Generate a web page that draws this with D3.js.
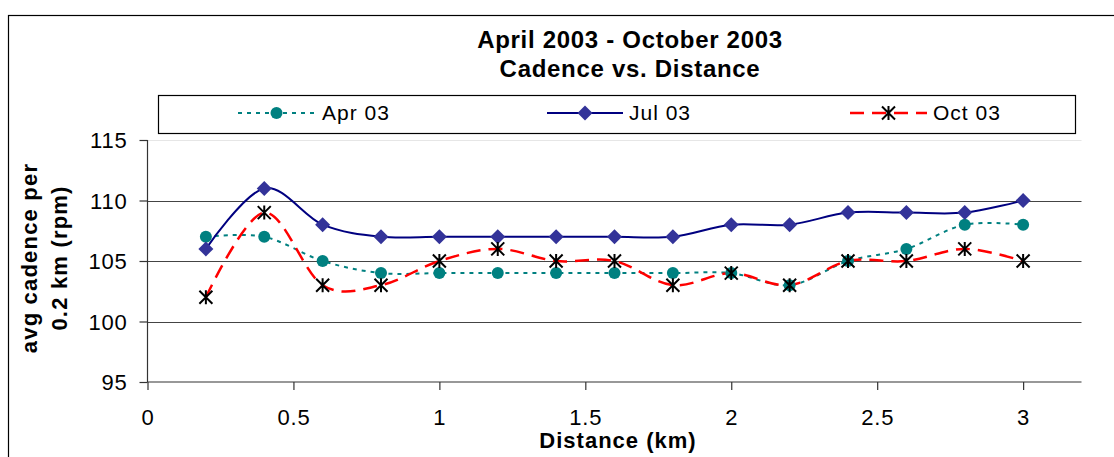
<!DOCTYPE html>
<html><head><meta charset="utf-8">
<script src="https://cdn.jsdelivr.net/npm/d3@7"></script>
<style>
html,body{margin:0;padding:0;background:#fff;}
svg{display:block;font-family:"Liberation Sans",Arial,sans-serif;}
</style></head>
<body><svg id="c" width="1114" height="457"></svg>
<script>
const distances = [0.2,0.4,0.6,0.8,1.0,1.2,1.4,1.6,1.8,2.0,2.2,2.4,2.6,2.8,3.0];
const apr03 = [107,107,105,104,104,104,104,104,104,104,103,105,106,108,108];
const jul03 = [106,111,108,107,107,107,107,107,107,108,108,109,109,109,110];
const oct03 = [102,109,103,103,105,106,105,105,103,104,103,105,105,106,105];
const xTicks = [0,0.5,1,1.5,2,2.5,3];
const yTicks = [95,100,105,110,115];
const titleLines = ["April 2003 - October 2003","Cadence vs. Distance"];

const svg = d3.select("#c");
const x = d3.scaleLinear().domain([0,3.2]).range([147.5,1081.5]);
const y = d3.scaleLinear().domain([95,115]).range([382,140]);

// outer border
svg.append("rect").attr("x",8.5).attr("y",15.5).attr("width",1120).attr("height",460)
  .attr("fill","none").attr("stroke","#000").attr("stroke-width",1.2);

// title
titleLines.forEach((t,i)=>{
  svg.append("text").attr("x",630).attr("y",48+i*29).attr("text-anchor","middle")
    .attr("font-size",24).attr("font-weight","bold").attr("letter-spacing",0.7).text(t);
});

// gridlines
yTicks.filter(v=>v>95).forEach(v=>{
  svg.append("line").attr("x1",x(0)).attr("x2",x(3.2)).attr("y1",Math.round(y(v))+0.5).attr("y2",Math.round(y(v))+0.5)
    .attr("stroke", v===115 ? "#e6e6e6" : "#444").attr("stroke-width",1.2);
});

// axes
const yAxis = d3.axisLeft(y).tickValues(yTicks).tickSize(8).tickPadding(12).tickFormat(d3.format("d"));
const gy = svg.append("g").attr("transform",`translate(${x(0)},0)`).call(yAxis);
gy.selectAll("text").attr("font-size",22).attr("letter-spacing",0.8).attr("fill","#000").attr("dy","0.35em");
gy.selectAll("line,path").attr("stroke","#333").attr("stroke-width",1.2);
gy.select(".domain").attr("d",`M0,${y(115)}V${y(95)}`);

const xAxis = d3.axisBottom(x).tickValues(xTicks).tickSize(8).tickPadding(19).tickFormat(d=>String(d));
const gx = svg.append("g").attr("transform",`translate(0,${y(95)})`).call(xAxis);
gx.selectAll("text").attr("font-size",22).attr("letter-spacing",0.8).attr("fill","#000");
gx.selectAll("line,path").attr("stroke","#333").attr("stroke-width",1.2);
gx.select(".domain").attr("d",`M${x(0)},0H${x(3.2)}`);

// axis titles
svg.append("text").attr("x",618).attr("y",448).attr("text-anchor","middle")
  .attr("font-size",22).attr("font-weight","bold").attr("letter-spacing",1).text("Distance (km)");
const yt = svg.append("text").attr("transform","translate(0,258) rotate(-90)")
  .attr("text-anchor","middle").attr("font-size",22).attr("font-weight","bold").attr("letter-spacing",1.2);
yt.append("tspan").attr("x",0).attr("y",37).text("avg cadence per");
yt.append("tspan").attr("x",0).attr("y",67).text("0.2 km (rpm)");

// series
const curve = d3.curveCardinal.tension(0);
const mk = vals => d3.line().curve(curve).x((d,i)=>x(distances[i])).y(d=>y(d))(vals);

const series = [
  {name:"Apr 03", vals:apr03, color:"#008080", width:2, dash:"4,5", marker:"circle", mcolor:"#008080"},
  {name:"Jul 03", vals:jul03, color:"#000080", width:2, dash:null, marker:"diamond", mcolor:"#333399"},
  {name:"Oct 03", vals:oct03, color:"#ff0000", width:2.5, dash:"14,8", marker:"star", mcolor:"#000"}
];

function drawMarker(g, type, cx, cy, color){
  if(type==="circle"){
    g.append("circle").attr("cx",cx).attr("cy",cy).attr("r",6).attr("fill",color);
  } else if(type==="diamond"){
    const s=7.5;
    g.append("path").attr("d",`M${cx},${cy-s}L${cx+s},${cy}L${cx},${cy+s}L${cx-s},${cy}Z`).attr("fill",color);
  } else {
    const s=6.5;
    g.append("path").attr("d",`M${cx-s},${cy-s}L${cx+s},${cy+s}M${cx-s},${cy+s}L${cx+s},${cy-s}M${cx},${cy-s-0.5}L${cx},${cy+s+0.5}`)
      .attr("stroke",color).attr("stroke-width",2).attr("fill","none");
  }
}

series.forEach(s=>{
  const p = svg.append("path").attr("d",mk(s.vals)).attr("fill","none")
    .attr("stroke",s.color).attr("stroke-width",s.width);
  if(s.dash) p.attr("stroke-dasharray",s.dash);
});
series.forEach(s=>{
  const g = svg.append("g");
  s.vals.forEach((v,i)=>drawMarker(g,s.marker,x(distances[i]),y(v),s.mcolor));
});

// legend
svg.append("rect").attr("x",158.5).attr("y",95.5).attr("width",917).attr("height",38)
  .attr("fill","#fff").attr("stroke","#000").attr("stroke-width",1.2);
const legX = [[238,315,322],[547,623,629],[850,927,933]];
series.forEach((s,i)=>{
  const [a,b,t]=legX[i];
  const ly=113;
  const l = svg.append("line").attr("x1",a).attr("x2",b).attr("y1",ly).attr("y2",ly)
    .attr("stroke",s.color).attr("stroke-width",s.width);
  if(s.dash) l.attr("stroke-dasharray",s.dash);
  drawMarker(svg.append("g"),s.marker,(a+b)/2,ly,s.mcolor);
  svg.append("text").attr("x",t).attr("y",120).attr("font-size",21).attr("letter-spacing",1).text(s.name);
});
</script></body></html>
